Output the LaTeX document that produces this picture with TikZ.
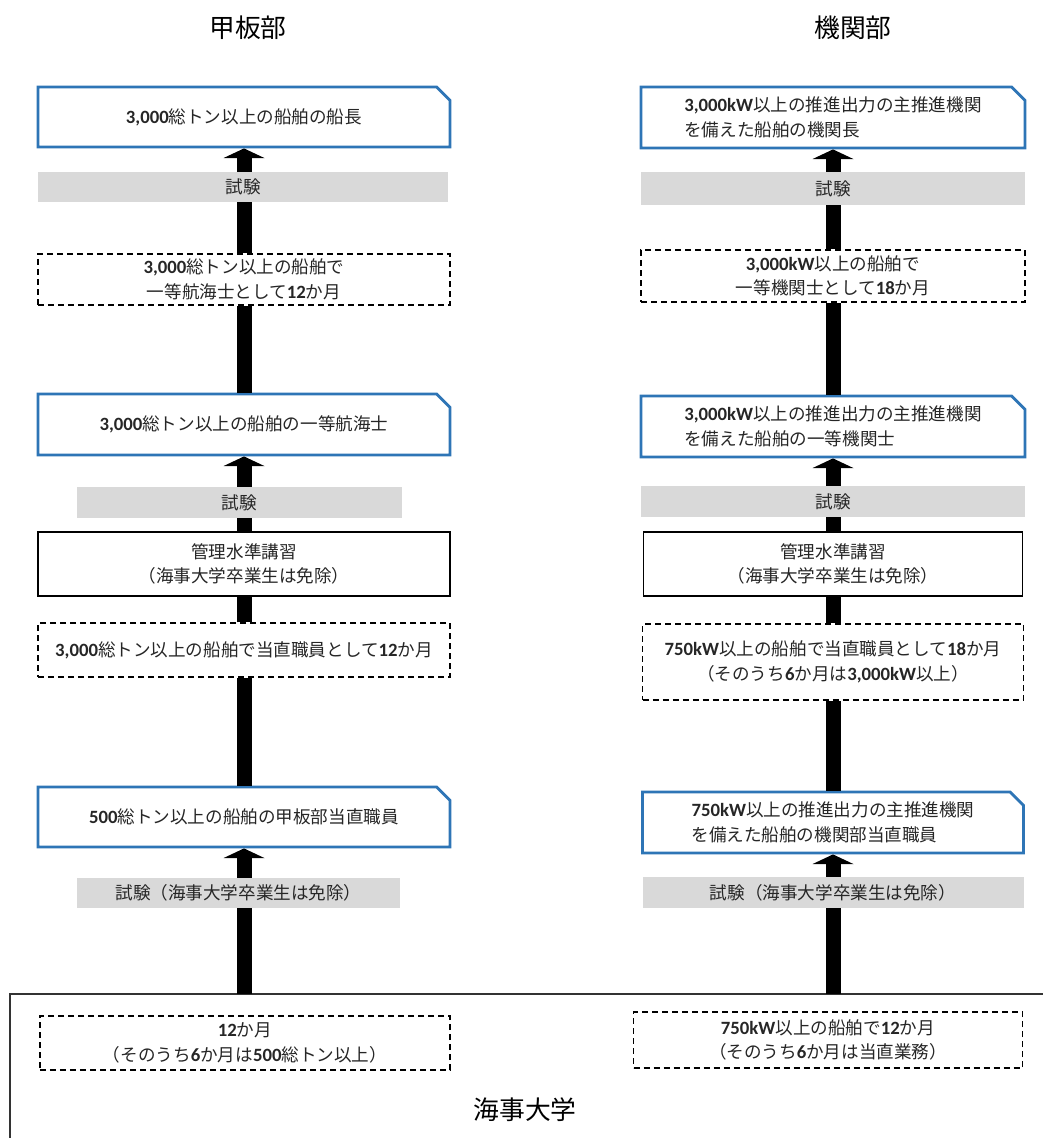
\documentclass[tikz,border=0pt]{standalone}
\usepackage{fontspec}
\setmainfont{Noto Sans CJK JP}
\newfontfamily\numfont{Carlito}
\usetikzlibrary{arrows.meta}
\usetikzlibrary{shapes.misc}
\definecolor{capblue}{HTML}{2E75B6}
\definecolor{examgray}{HTML}{D9D9D9}
\newcommand{\nm}[1]{{\numfont\bfseries\fontsize{16}{20}\selectfont #1}}
\tikzset{boxtxt/.style = {text=black!85, font=\fontsize{15}{21}\selectfont}}
\tikzset{capbox/.style = {boxtxt, draw=capblue, line width=2.4pt, fill=white, chamfered rectangle, chamfered rectangle corners=north east, chamfered rectangle sep=2mm, inner sep=0, align=left}}
\tikzset{seabox/.style = {boxtxt, draw=black, line width=1.2pt, dash pattern=on 1.8mm off 1.2mm, fill=white, inner sep=0, align=center}}
\tikzset{coursebox/.style = {boxtxt, draw=black, line width=1.2pt, fill=white, inner sep=0, align=center}}
\tikzset{exambox/.style = {boxtxt, fill=examgray, inner sep=0}}
\tikzset{headtxt/.style = {font=\fontsize{22}{26}\selectfont}}
\tikzset{shaft/.style = {line width=4.5mm}}
\tikzset{bigarrow/.style = {shaft, -{Triangle[width=12.3mm, length=2.9mm, line width=0pt]}}}

\begin{document}
\begin{tikzpicture}[x=0.3mm, y=-0.3mm]
      \useasboundingbox (0,0) rectangle (1043,1138);

      \node [headtxt] (ldept) at (248,28) {甲板部};
      \node [headtxt] (rdept) at (853,28) {機関部};

      \node [capbox, minimum width=123.6mm, minimum height=18mm] (lcap1) at (244,117) {\nm{3,000}総トン以上の船舶の船長};
      \node [seabox, minimum width=123.6mm, minimum height=15.3mm] (lsea1) at (244,279.5) {\nm{3,000}総トン以上の船舶で\\一等航海士として\nm{12}か月};
      \node [capbox, minimum width=123.6mm, minimum height=18.3mm] (lcap2) at (244,424.5) {\nm{3,000}総トン以上の船舶の一等航海士};
      \node [coursebox, minimum width=123.6mm, minimum height=19.2mm] (lcourse) at (244,564) {管理水準講習\\（海事大学卒業生は免除）};
      \node [seabox, minimum width=123.6mm, minimum height=16.2mm] (lsea2) at (244,650) {\nm{3,000}総トン以上の船舶で当直職員として\nm{12}か月};
      \node [capbox, minimum width=123.6mm, minimum height=18mm] (lcap3) at (244,817) {\nm{500}総トン以上の船舶の甲板部当直職員};

      \node [capbox, minimum width=115.2mm, minimum height=18.3mm] (rcap1) at (833,117.5) {\nm{3,000kW}以上の推進出力の主推進機関\\を備えた船舶の機関長};
      \node [seabox, minimum width=115.2mm, minimum height=15.6mm] (rsea1) at (833,276) {\nm{3,000kW}以上の船舶で\\一等機関士として\nm{18}か月};
      \node [capbox, minimum width=115.2mm, minimum height=18.3mm] (rcap2) at (833,426.5) {\nm{3,000kW}以上の推進出力の主推進機関\\を備えた船舶の一等機関士};
      \node [coursebox, minimum width=113.7mm, minimum height=19.2mm] (rcourse) at (833,564) {管理水準講習\\（海事大学卒業生は免除）};
      \node [seabox, minimum width=114.3mm, minimum height=22.8mm] (rsea2) at (833,662) {\nm{750kW}以上の船舶で当直職員として\nm{18}か月\\（そのうち\nm{6}か月は\nm{3,000kW}以上）};
      \node [capbox, minimum width=114.3mm, minimum height=18.3mm] (rcap3) at (833,822.5) {\nm{750kW}以上の推進出力の主推進機関\\を備えた船舶の機関部当直職員};

      \draw [line width=1.5pt, black!80] (1043,994) -- (10,994) -- (10,1138);
      \coordinate (lbase) at (244,994);
      \coordinate (rbase) at (833,994);

      \node [seabox, minimum width=123mm, minimum height=16.2mm] (lsea3) at (245,1043) {\nm{12}か月\\（そのうち\nm{6}か月は\nm{500}総トン以上）};
      \node [seabox, minimum width=116.7mm, minimum height=16.8mm] (rsea3) at (828,1040) {\nm{750kW}以上の船舶で\nm{12}か月\\（そのうち\nm{6}か月は当直業務）};
      \node [headtxt] (univ) at (525,1110) {海事大学};

      \draw [bigarrow] (lbase) -- (lcap3.south);
      \draw [bigarrow] (rbase) -- (rcap3.south);
      \foreach \a/\b in {lcourse/lcap2, lsea1/lcap1, rcourse/rcap2, rsea1/rcap1} {
        \draw [bigarrow] (\a.north) -- (\b.south);
      }
      \foreach \a/\b in {lcap3/lsea2, lsea2/lcourse, lcap2/lsea1, rcap3/rsea2, rsea2/rcourse, rcap2/rsea1} {
        \draw [shaft] (\a.north) -- (\b.south);
      }

      \node [exambox, minimum width=123mm, minimum height=9mm] (lexam1) at (243,187) {試験};
      \node [exambox, minimum width=97.5mm, minimum height=9.3mm] (lexam2) at (239.5,502.5) {試験};
      \node [exambox, minimum width=96.9mm, minimum height=9mm] (lexam3) at (238.5,893) {試験（海事大学卒業生は免除）};
      \node [exambox, minimum width=115mm, minimum height=9.9mm] (rexam1) at (833,188.5) {試験};
      \node [exambox, minimum width=115mm, minimum height=9.3mm] (rexam2) at (833,501.5) {試験};
      \node [exambox, minimum width=114.3mm, minimum height=9.3mm] (rexam3) at (833,892.5) {試験（海事大学卒業生は免除）};
    \end{tikzpicture}
\end{document}
